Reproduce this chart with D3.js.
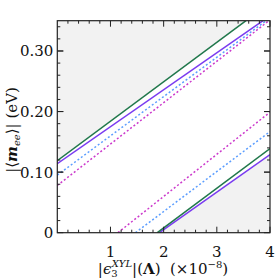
<!DOCTYPE html>
<html><head><meta charset="utf-8">
<script src="https://cdn.jsdelivr.net/npm/d3@7"></script>
<style>
html,body{margin:0;padding:0;background:#fff;}
</style></head>
<body>
<svg id="chart" width="276" height="278"></svg>
<script>
// ---- data ----
const xDomain = [0, 4];
const yDomain = [0, 0.35];
const xTicks = [1, 2, 3, 4];
const xTickLabels = ["1", "2", "3", "4"];
const yTicks = [0, 0.1, 0.2, 0.3];
const yTickLabels = ["0", "0.10", "0.20", "0.30"];
const xMinorStep = 0.2;
const yMinorStep = 0.02;

// upper branch lines [x, |m_ee|]
const upperGreen   = [[0, 0.119], [3.55, 0.35]];
const upperPurple  = [[0, 0.114], [3.87, 0.35]];
const upperBlue    = [[0, 0.095], [3.93, 0.35]];
const upperMagenta = [[0, 0.078], [3.98, 0.35]];
// lower branch lines
const lowerGreen   = [[1.88, 0], [4, 0.139]];
const lowerPurple  = [[1.92, 0], [4, 0.129]];
const lowerBlue    = [[1.47, 0], [4, 0.167]];
const lowerMagenta = [[1.14, 0], [4, 0.199]];

const seriesStyles = [
  {data: upperMagenta, color: "#cc3acc", dash: "2,2.2"},
  {data: lowerMagenta, color: "#cc3acc", dash: "2,2.2"},
  {data: upperBlue, color: "#5b9dff", dash: "2,2.2"},
  {data: lowerBlue, color: "#5b9dff", dash: "2,2.2"},
  {data: upperPurple, color: "#7a3cf0", dash: null},
  {data: lowerPurple, color: "#7a3cf0", dash: null},
  {data: upperGreen, color: "#21784c", dash: null},
  {data: lowerGreen, color: "#21784c", dash: null}
];

// ---- layout ----
const FONT = '"DejaVu Serif", serif';
const L = 57.3, R = 270, T = 20.7, B = 232.7;
const svg = d3.select("#chart");
const x = d3.scaleLinear().domain(xDomain).range([L, R]);
const y = d3.scaleLinear().domain(yDomain).range([B, T]);

svg.append("defs").append("clipPath").attr("id", "clip")
  .append("rect").attr("x", L).attr("y", T).attr("width", R - L).attr("height", B - T);

const plot = svg.append("g").attr("clip-path", "url(#clip)");

// shaded excluded regions
const area = d3.line().x(d => x(d[0])).y(d => y(d[1]));
const upperRegion = [upperGreen[0], upperGreen[1], [xDomain[0], yDomain[1]]];
const lowerRegion = [lowerPurple[0], lowerPurple[1], [xDomain[1], yDomain[0]]];
plot.append("path").attr("d", area(upperRegion) + "Z").attr("fill", "#f2f2f2");
plot.append("path").attr("d", area(lowerRegion) + "Z").attr("fill", "#f2f2f2");

// lines
seriesStyles.forEach(s => {
  plot.append("path").attr("d", area(s.data))
    .attr("fill", "none").attr("stroke", s.color)
    .attr("stroke-width", 1.5)
    .attr("stroke-dasharray", s.dash);
});

// ticks (inward on all sides)
const xMinor = d3.range(xDomain[0] + xMinorStep, xDomain[1] + 1e-9, xMinorStep);
const yMinor = d3.range(yDomain[0] + yMinorStep, yDomain[1] + 1e-9, yMinorStep);
const isMajor = (v, arr) => arr.some(t => Math.abs(t - v) < 1e-6);
const tg = svg.append("g").attr("stroke", "#222").attr("stroke-width", 1);
xMinor.forEach(v => {
  const len = isMajor(v, xTicks) ? 6 : 3;
  const px = x(v);
  tg.append("line").attr("x1", px).attr("x2", px).attr("y1", B).attr("y2", B - len);
  tg.append("line").attr("x1", px).attr("x2", px).attr("y1", T).attr("y2", T + len);
});
yMinor.concat(yTicks).forEach(v => {
  const len = isMajor(v, yTicks) ? 6 : 3;
  const py = y(v);
  tg.append("line").attr("y1", py).attr("y2", py).attr("x1", L).attr("x2", L + len);
  tg.append("line").attr("y1", py).attr("y2", py).attr("x1", R).attr("x2", R - len);
});

// frame
svg.append("rect").attr("x", L).attr("y", T).attr("width", R - L).attr("height", B - T)
  .attr("fill", "none").attr("stroke", "#222").attr("stroke-width", 1.2);

// tick labels
xTicks.forEach((v, i) => {
  svg.append("text").attr("x", x(v)).attr("y", 256.5).attr("text-anchor", "middle")
    .attr("font-family", FONT).attr("font-size", 15).attr("fill", "#111").text(xTickLabels[i]);
});
yTicks.forEach((v, i) => {
  svg.append("text").attr("x", L - 4).attr("y", y(v) + 5.5).attr("text-anchor", "end")
    .attr("font-family", FONT).attr("font-size", 15).attr("fill", "#111").text(yTickLabels[i]);
});

// x label
const xl = svg.append("text").attr("x", 163).attr("y", 274).attr("text-anchor", "middle")
  .attr("font-family", FONT).attr("font-size", 15).attr("fill", "#111");
xl.append("tspan").text("|");
xl.append("tspan").attr("font-style", "italic").text("ϵ");
xl.append("tspan").attr("font-size", 10).attr("dy", 3).text("3");
xl.append("tspan").attr("font-size", 10).attr("font-style", "italic").attr("dx", -6).attr("dy", -10).text("XYL");
xl.append("tspan").attr("dy", 7).text("|(");
xl.append("tspan").attr("font-weight", "bold").text("Λ");
xl.append("tspan").text(")\u00a0\u00a0(×10");
xl.append("tspan").attr("font-size", 10).attr("dy", -6).text("−8");
xl.append("tspan").attr("dy", 6).text(")");

// y label
const yl = svg.append("text").attr("transform", "translate(17,130) rotate(-90)")
  .attr("text-anchor", "middle").attr("font-family", FONT).attr("font-size", 15).attr("fill", "#111");
yl.append("tspan").text("|⟨");
yl.append("tspan").attr("font-weight", "bold").attr("font-style", "italic").text("m");
yl.append("tspan").attr("font-size", 10).attr("font-style", "italic").attr("dy", 3).text("ee");
yl.append("tspan").attr("dy", -3).text("⟩|\u00a0(eV)");
</script>
</body></html>
